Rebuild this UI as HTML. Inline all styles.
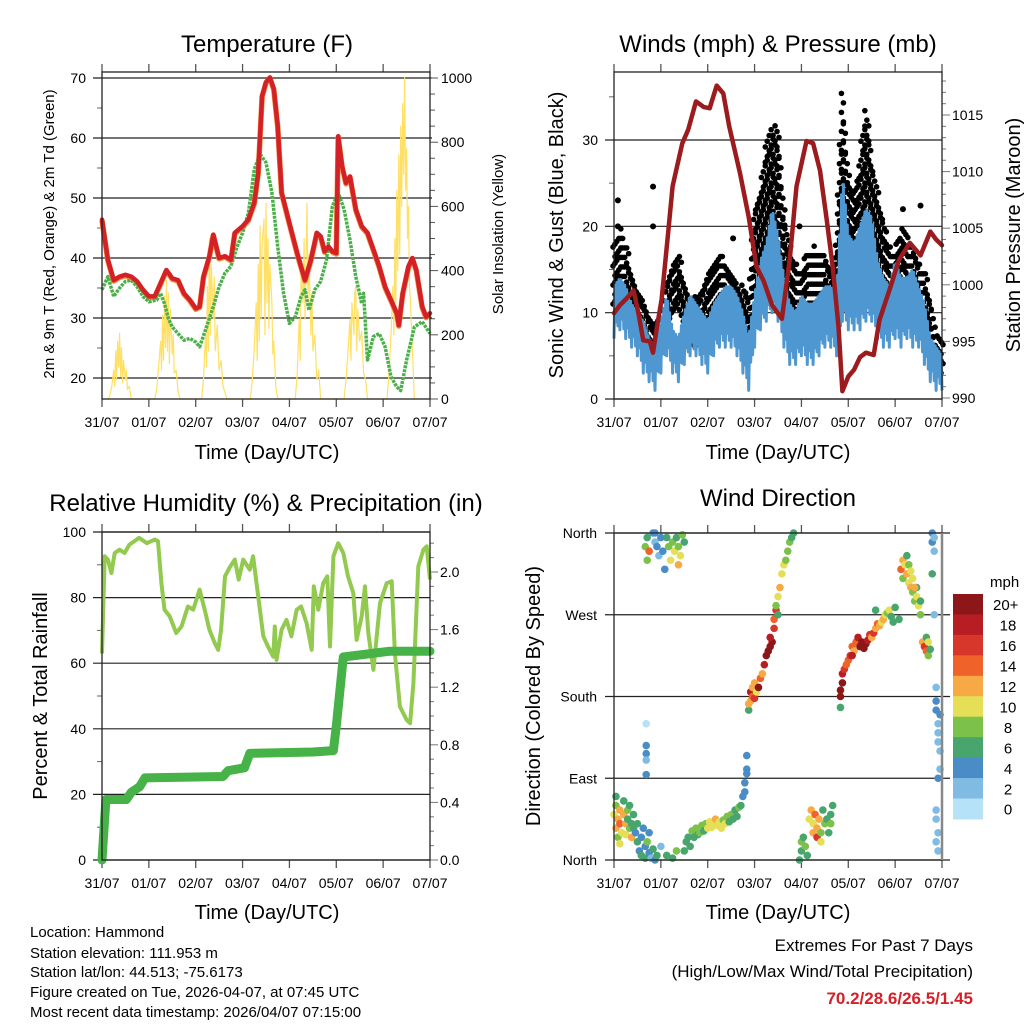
<!DOCTYPE html>
<html><head><meta charset="utf-8"><style>
html,body{margin:0;padding:0;background:#fff;}
svg{display:block;font-family:"Liberation Sans",Arial,sans-serif;}
</style></head><body>
<svg id="chart" width="1024" height="1024" viewBox="0 0 1024 1024" xmlns="http://www.w3.org/2000/svg">
<rect x="0" y="0" width="1024" height="1024" fill="#fff"/>
<g id="layer"></g>
<text x="267" y="52" font-size="24" text-anchor="middle">Temperature (F)</text>
<text x="778" y="52" font-size="24" text-anchor="middle">Winds (mph) &amp; Pressure (mb)</text>
<text x="266" y="511" font-size="24" text-anchor="middle">Relative Humidity (%) &amp; Precipitation (in)</text>
<text x="778" y="506" font-size="24" text-anchor="middle">Wind Direction</text>
<text transform="translate(54,234) rotate(-90)" font-size="15" text-anchor="middle">2m &amp; 9m T (Red, Orange) &amp; 2m Td (Green)</text>
<text transform="translate(503,234) rotate(-90)" font-size="15" text-anchor="middle">Solar Insolation (Yellow)</text>
<text transform="translate(563,235) rotate(-90)" font-size="20" text-anchor="middle">Sonic Wind &amp; Gust (Blue, Black)</text>
<text transform="translate(1020,235) rotate(-90)" font-size="20" text-anchor="middle">Station Pressure (Maroon)</text>
<text transform="translate(47,696) rotate(-90)" font-size="20" text-anchor="middle">Percent &amp; Total Rainfall</text>
<text transform="translate(540,696) rotate(-90)" font-size="20" text-anchor="middle">Direction (Colored By Speed)</text>
<text x="267" y="459" font-size="20" text-anchor="middle">Time (Day/UTC)</text>
<text x="778" y="459" font-size="20" text-anchor="middle">Time (Day/UTC)</text>
<text x="267" y="919" font-size="20" text-anchor="middle">Time (Day/UTC)</text>
<text x="778" y="919" font-size="20" text-anchor="middle">Time (Day/UTC)</text>
<g font-size="15">
<text x="30" y="937">Location: Hammond</text>
<text x="30" y="958">Station elevation: 111.953 m</text>
<text x="30" y="977">Station lat/lon: 44.513; -75.6173</text>
<text x="30" y="997">Figure created on Tue, 2026-04-07, at 07:45 UTC</text>
<text x="30" y="1017">Most recent data timestamp: 2026/04/07 07:15:00</text>
</g>
<text x="973" y="951" font-size="17" text-anchor="end">Extremes For Past 7 Days</text>
<text x="973" y="977" font-size="17" text-anchor="end">(High/Low/Max Wind/Total Precipitation)</text>
<text x="973" y="1004" font-size="17" font-weight="bold" fill="#d42027" text-anchor="end">70.2/28.6/26.5/1.45</text>
<text x="990" y="587" font-size="15">mph</text>
</svg>
<script>
// ---------- data ----------
const dayLabels = ["31/07","01/07","02/07","03/07","04/07","05/07","06/07","07/07"];
const tempTicks = [20,30,40,50,60,70];
const solarTicks = [0,200,400,600,800,1000];
const windTicks = [0,10,20,30];
const presTicks = [990,995,1000,1005,1010,1015];
const rhTicks = [0,20,40,60,80,100];
const precipTicks = ["0.0","0.4","0.8","1.2","1.6","2.0"];
const dirTicks = ["North","East","South","West","North"];
const dirTickVals = [0,90,180,270,360];
const speedBins = ["0","2","4","6","8","10","12","14","16","18","20+"];
const speedColors = ["#b5e2f6","#7fbbe3","#4a8dc6","#47a56d","#7cc24a","#e5df57","#f6a944","#ef6229","#d7362b","#b81d23","#8d1619"];

const t2mT = [0,3,6,9,12,15,18,21,24,27,30,33,36,39,42,45,48,50,52,55,57,60,63,66,68,72,75,78,80,82,84,86,88,90,92,96,100,104,107,110,112,114,116,118,120,121,123,125,127,130,133,136,139,142,145,148,151,152,154,157,159,161,164,166,168];
const t2mV = [46.4,39.7,36.3,36.9,37.2,36.9,36.1,34.7,33.6,33.6,35.8,38,36.6,36.3,34.1,33,31.6,31.9,36.9,40.3,43.9,40,40.3,39.7,44.2,45.3,46.4,49.2,54.2,67,69.3,70.1,68.2,62,50.9,45.8,40.8,36.3,39.7,44.2,43.6,41.1,41.9,41.1,40.8,60.3,55.3,52.5,53.6,48.1,45.3,44.2,41.4,38.6,35.2,33,30.8,28.8,34.1,38.6,40,38,31.9,30.2,30.8];
const tdT = [0,3,6,9,12,15,18,21,24,28,30,32,34,36,39,42,45,48,50,53,57,60,63,66,69,72,75,78,81,84,87,90,93,96,99,102,104,106,109,112,115,118,121,124,127,130,133,134,136,139,142,145,148,151,153,156,160,164,168];
const tdV = [34.7,36.9,33.6,35,36.1,36.3,35.2,33.6,32.7,33,34.1,32.4,29.9,28.5,27.4,26.3,26.6,26,25.2,28,31.9,35.2,37.5,38.6,41.7,44.2,47.5,54.8,57.3,55.9,50.9,41.9,34.1,29.1,30.2,33.6,34.7,31.3,34.7,36.1,39.7,48.6,50.9,48.1,43,36.9,32.4,34.1,23,26.9,27.4,25.2,20.2,18.5,17.9,23,28.5,29.4,27.4];
const solarT = [3,4,5,6,6.5,7,7.5,8,8.5,9,9.5,10,10.5,11,12,12.5,13,14,15,
 27,28,29,30,30.5,31,31.5,32,32.5,33,33.5,34,34.5,35,36,36.5,37,38,39,40,
 51,52,53,53.5,54,54.5,55,55.5,56,57,57.5,58,59,60,61,62,63,64,
 76,77,78,79,79.5,80,80.5,81,81.5,82,83,83.5,84,84.5,85,85.5,86,87,87.5,88,89,90,
 99,100,101,101.5,102,103,103.5,104,105,105.5,106,107,107.5,108,109,110,111,112,
 124,125,126,127,127.5,128,129,129.5,130,130.5,131,132,133,134,135,136,
 146,147,148,149,149.5,150,150.5,151,151.5,152,152.5,153,153.5,154,154.5,155,155.5,156,156.5,157,157.5,158,159,160];
const solarV = [0,10,40,90,40,150,60,180,100,205,70,160,50,120,60,90,30,40,0,
 0,30,100,180,90,260,120,320,160,370,150,330,110,280,140,200,80,90,20,0,
 0,60,200,100,350,150,500,200,420,250,380,150,230,90,120,40,20,0,
 0,60,160,300,120,420,180,540,250,480,560,200,610,300,500,220,420,300,140,180,40,0,
 0,80,250,120,400,300,500,250,610,300,450,200,330,150,200,60,90,0,
 0,60,150,250,120,300,200,330,350,150,280,180,210,80,60,0,
 0,80,200,350,200,500,300,650,400,760,450,850,600,920,700,1000,650,780,500,600,350,300,150,0];

const windLo = [7,8,7,6,5,3,2,1,3,5,3,2,4,5,5,4,3,5,6,6,6,5,3,1,6,8,9,10,9,6,4,4,5,4,4,5,6,6,5,9,8,8,8,9,9,7,6,6,7,6,7,6,6,4,2,1,1];
const windHi = [13,14,13,11,10,9,7,6,9,12,8,7,10,12,11,10,9,11,12,13,13,12,10,7,12,16,18,22,19,14,11,10,12,11,11,12,13,13,12,26,19,18,20,22,21,16,14,13,16,14,14,15,13,11,7,6,5];
const gustLo = [11,12,12,10,8,7,5,4,5,8,10,11,9,7,6,7,9,10,11,11,10,9,7,5,12,14,16,18,16,12,10,9,9,10,10,10,10,8,9,20,16,15,16,18,16,14,12,11,11,12,11,11,9,9,7,4,3];
const gustHi = [18,20,18,15,13,12,10,9,10,14,16,17,14,12,12,13,15,16,17,16,15,14,13,12,22,24,30,32,31,22,18,16,15,17,18,17,17,15,18,36,26,24,28,34,28,24,21,18,17,20,19,18,16,15,12,8,7];
const gustOutT = [2,2,20,20,61,95,148,157];
const gustOutV = [23,20,24.6,20,18.6,20,22,22.4];
const presT = [0,3,6.5,10,12.5,15,18.4,20,22,24.4,28,30,35,38,42,46,49,52.6,56,59,64.5,69,73,76.5,81,86,90,93.5,98.6,102,105.5,109,112,115,117,120,123,126,129,133,136,141,146,151.5,157,162,165,168];
const presV = [997.5,998.2,998.8,999.5,997.5,995.1,995,994,996.3,998.7,1005.1,1008.7,1012.5,1013.7,1016.2,1015.7,1015.6,1017.6,1016.9,1014,1009.9,1006,1001.6,1000.4,998.2,997,1002.2,1008.7,1012.7,1012.5,1010.1,1005.7,1001.6,996.3,990.6,991.9,992.5,993.6,994,993.8,996.9,999.5,1002.2,1003.7,1002.6,1004.7,1004,1003.5];

const rhT = [0,1.4,3,4.8,6.5,9,11.6,14,19,23,27,28.7,30.4,32,34.7,38,40.7,44,46.7,50,52.6,55,57.8,59.5,61,63,65.5,68,70,72.3,75.7,77.4,80,82.6,85,87.7,88.5,89.4,92,94.5,97,99.7,102,104.8,107.4,108.5,110.8,113.3,115.4,116.8,118.5,121,123.6,126,128.7,130.4,133,134.7,136.4,139,142.4,145.8,148.4,150,152.6,156,157.8,159.5,162,164.6,166.3,168];
const rhV = [63,92.6,91.6,87.5,93.6,94.6,93.6,96.1,98.2,96.6,97.7,97.2,84.4,76.3,74.3,69.2,71.2,77.3,76.3,82.4,76.3,70.2,66.1,64.1,70.2,86.5,89.3,91.6,85.5,91.6,88.5,92.6,80.4,68.2,65.1,62,71.2,61,70.2,73.2,68.2,76.3,77.3,72.2,64.1,83.4,76.3,84.4,86.5,65.1,92.6,96.6,93.6,86.5,81.4,67.1,74.3,83.4,69.2,58,78.3,84.4,85,63,46.8,42.7,41.7,53.9,89.5,94.6,95.6,85.5];
const prT = [0,2,12.5,15,19.3,22,62,64.6,73,75.7,108,118.5,120,123.6,147.5,168];
const prV = [0,0.42,0.42,0.47,0.51,0.57,0.58,0.62,0.64,0.74,0.75,0.76,0.93,1.41,1.45,1.45];

const dirT = [0,1,1,2,2,3,3,4,5,5,6,6,7,7,8,8,9,9,10,10,3,1,
 11,12,12,13,14,14,15,16,16,17,18,18,19,20,21,22,24,27,30,32,
 16,17,17,18,20,21,22,23,24,25,26,27,28,29,30,31,32,33,34,35,36,33,21,
 16.5,16.5,16.5,16.5,16.5,
 36,37,38,39,40,41,42,43,44,45,46,47,48,49,50,51,52,53,54,55,56,57,58,59,60,61,62,63,64,65,66,67,67,68,68,68,
 69,69,70,70,71,71,72,72,73,74,75,76,77,78,79,80,81,80,82,82,83,83,84,84,85,86,87,88,89,90,91,92,
 95,96,96,97,98,99,100,101,102,102,103,104,104,105,106,106,107,108,109,110,111,111,112,
 116,116,116,117,117,118,119,120,121,122,123,124,125,126,127,128,129,130,131,132,133,134,135,136,137,138,139,140,141,142,143,144,134,146,122,
 147,148,148,149,150,150,151,152,153,153,154,155,155,156,157,157,151,154,152,
 158,159,160,160,161,161,162,
 163,163,164,164,163,165,165,165,166,166,166,167,167,167,166,165,165,166,165,166,164];
const dirV = [50,35,60,45,25,55,40,30,50,65,40,28,55,45,35,60,40,25,50,35,18,70,
 30,20,40,10,25,5,35,15,2,20,8,30,2,12,0,5,15,5,2,10,
 345,355,330,340,360,350,345,335,355,340,320,355,345,330,350,340,355,345,335,358,350,325,360,
 150,126,117,110,94,
 10,20,25,15,32,25,35,28,30,38,32,40,35,42,36,40,45,38,42,35,44,40,48,42,50,45,55,48,58,60,70,75,85,95,100,115,
 165,172,175,185,180,190,178,195,185,190,200,205,215,225,230,235,240,245,255,265,275,280,270,290,300,315,325,330,340,350,355,360,
 0,10,20,25,15,5,45,55,40,30,50,35,25,45,20,30,55,40,45,30,50,40,60,
 168,180,187,195,205,210,215,220,225,235,230,240,245,235,240,233,238,242,248,245,250,255,260,258,262,265,270,272,275,268,262,278,275,265,225,
 320,330,310,325,315,335,305,300,295,310,285,290,300,280,270,285,325,300,318,
 240,235,230,245,225,240,232,
 360,350,340,355,315,190,175,165,150,140,130,160,120,100,90,55,45,30,20,10,270];
const dirS = [10,12,8,13,9,12,15,11,13,7,12,10,8,6,9,6,7,13,7,6,10,7,
 5,6,7,5,4,6,5,4,6,9,5,4,3,6,5,7,2,6,6,8,
 8,7,8,15,4,3,4,3,5,4,4,6,9,10,8,10,7,9,11,8,6,12,5,
 1,4,4,3,4,
 6,7,6,6,8,7,8,6,9,8,7,9,10,10,11,10,12,10,10,11,9,10,8,7,8,6,7,6,8,6,5,4,4,4,4,4,
 6,12,12,18,14,12,16,12,10,20,14,12,18,20,20,20,20,19,16,14,16,8,7,10,12,10,10,8,8,8,7,7,
 7,6,8,7,8,6,11,12,10,13,14,12,16,12,11,8,7,8,7,6,6,8,6,
 6,20,20,20,18,16,14,14,16,14,12,14,18,20,20,20,20,18,16,12,16,12,14,12,10,12,10,8,10,6,6,7,6,6,18,
 14,12,8,10,12,6,10,12,8,10,8,10,6,10,8,6,8,12,11,
 12,16,14,6,8,10,6,
 4,4,2,2,6,2,4,4,3,2,2,4,2,3,4,3,3,2,2,2,3];

// ---------- helpers ----------
const NS = "http://www.w3.org/2000/svg";
const layer = document.getElementById("layer");
function mk(tag, attrs, parent) {
  const el = document.createElementNS(NS, tag);
  for (const k in attrs) el.setAttribute(k, attrs[k]);
  (parent || layer).appendChild(el);
  return el;
}
function linScale(d0, d1, r0, r1) { return v => r0 + (v - d0) * (r1 - r0) / (d1 - d0); }

const panels = [
  {key:"temperature", x0:102, x1:430, y0:72, y1:399},
  {key:"winds", x0:614, x1:942, y0:72, y1:399},
  {key:"humidity", x0:102, x1:430, y0:532, y1:860},
  {key:"direction", x0:614, x1:942, y0:533, y1:860}
];

function frame(p) {
  const g = mk("g", {});
  
  
  const xs = linScale(0, 168, p.x0, p.x1);
  for (let d = 0; d < dayLabels.length; d++) {
    const x = xs(d * 24);
    const tb = mk("line", {x1:x, x2:x, y1:p.y1, y2:p.y1 + 8, stroke:"#555", "stroke-width":1.3}, g);
    
    
    const tt = mk("line", {x1:x, x2:x, y1:p.y0, y2:p.y0 - 8, stroke:"#555", "stroke-width":1.3}, g);
    
    
    const lb = mk("text", {x:x, y:p.y1 + 28, "font-size":14, "text-anchor":"middle"}, g);
    lb.textContent = dayLabels[d];
    
    
  }
  return {g, xs};
}
function hLine(g, y, x0, x1, w, col, name) {
  const l = mk("line", {x1:x0, x2:x1, y1:y, y2:y, stroke:col, "stroke-width":w}, g);
  
  
  return l;
}
function label(g, x, y, txt, anchor, name) {
  const t = mk("text", {x:x, y:y, "font-size":14, "text-anchor":anchor}, g);
  t.textContent = txt;
  
  
  return t;
}
function box(g, p) {
  const r = mk("rect", {x:p.x0, y:p.y0, width:p.x1 - p.x0, height:p.y1 - p.y0, fill:"none", stroke:"#222", "stroke-width":1.3}, g);
  
  
}
function pathFrom(xsArr, ysArr) {
  let d = "";
  for (let i = 0; i < xsArr.length; i++) d += (i ? "L" : "M") + xsArr[i].toFixed(1) + "," + ysArr[i].toFixed(1);
  return d;
}

// ---------- Panel 1: temperature ----------
(function () {
  const p = panels[0];
  const {g, xs} = frame(p);
  const yT = linScale(20, 70, 378, 78);
  const yS = linScale(0, 1000, p.y1, 78);
  for (let v = 20; v <= 70; v += 5) {
    const y = yT(v);
    const major = tempTicks.indexOf(v) >= 0;
    if (major) hLine(g, y, p.x0 - 9, p.x1 + 2, 1.2, "#222", "temperature-gridline");
    else hLine(g, y, p.x0 - 5, p.x0, 1, "#666", "temperature-minor-tick");
  }
  tempTicks.forEach(v => label(g, p.x0 - 16, yT(v) + 5, String(v), "end", "temperature-tick-label"));
  for (let v = 0; v <= 1000; v += 50) {
    const major = v % 200 === 0;
    hLine(g, yS(v), p.x1, p.x1 + (major ? 8 : 5), 1, "#555", "solar-tick");
  }
  solarTicks.forEach(v => label(g, p.x1 + 11, yS(v) + 5, String(v), "start", "solar-tick-label"));
  const sp = mk("path", {d:pathFrom(solarT.map(xs), solarV.map(yS)), fill:"none", stroke:"#ffe064", "stroke-width":1.2, "stroke-linejoin":"round"}, g);
  
  
  const op = mk("path", {d:pathFrom(t2mT.map(xs), t2mV.map(v => yT(v) + 0.8)), fill:"none", stroke:"#f58a3a", "stroke-width":5.5, "stroke-linejoin":"round"}, g);
  
  
  const tdp = mk("path", {d:pathFrom(tdT.map(xs), tdV.map(yT)), fill:"none", stroke:"#4cb04a", "stroke-width":3.5, "stroke-dasharray":"3 1", "stroke-linejoin":"round"}, g);
  
  
  const rp = mk("path", {d:pathFrom(t2mT.map(xs), t2mV.map(yT)), fill:"none", stroke:"#d42027", "stroke-width":4.5, "stroke-linejoin":"round", "stroke-linecap":"round"}, g);
  
  
  box(g, p);
})();

// ---------- Panel 2: winds & pressure ----------
(function () {
  const p = panels[1];
  const {g, xs} = frame(p);
  const yW = linScale(0, 30, p.y1, 140);
  const yP = linScale(990, 1015, 398, 115);
  for (let v = 0; v <= 35; v += 5) {
    if (v % 10 === 0) hLine(g, yW(v), p.x0 - 9, p.x1, 1.2, "#222", "wind-gridline");
    else hLine(g, yW(v), p.x0 - 5, p.x0, 1, "#666", "wind-minor-tick");
  }
  windTicks.forEach(v => label(g, p.x0 - 16, yW(v) + 5, String(v), "end", "wind-tick-label"));
  for (let v = 990; v <= 1018; v += 1) {
    const major = v % 5 === 0;
    hLine(g, yP(v), p.x1, p.x1 + (major ? 8 : 4), 1, "#777", "pressure-tick");
  }
  presTicks.forEach(v => label(g, p.x1 + 10, yP(v) + 5, String(v), "start", "pressure-tick-label"));
  // gusts: interpolate between neighbouring 3h samples so the cloud is continuous
  const jit = [0, 0.33, 0.66];
  for (let i = 0; i < gustLo.length; i++) {
    const nLo = gustLo[Math.min(i + 1, gustLo.length - 1)], nHi = gustHi[Math.min(i + 1, gustHi.length - 1)];
    for (let s = 0; s < 3; s++) {
      if (i === gustLo.length - 1 && s > 0) break;
      const f = jit[s];
      const lo = gustLo[i] + (nLo - gustLo[i]) * f, hi = gustHi[i] + (nHi - gustHi[i]) * f;
      let k = 0;
      for (let v = lo; v <= hi; v += 1.1) {
        const c = mk("circle", {cx:xs(i * 3 + f * 3) + ((k % 2) ? 1 : -1), cy:yW(v), r:2.8, fill:"#000"}, g);
        
        
        k++;
      }
    }
  }
  for (let i = 0; i < gustOutT.length; i++) {
    const c = mk("circle", {cx:xs(gustOutT[i]), cy:yW(gustOutV[i]), r:3, fill:"#000"}, g);
    
    
  }
  // wind: dense jagged trace between low and high of each 3h window
  const wx = [], wy = [];
  for (let i = 0; i < windLo.length; i++) {
    const last = i === windLo.length - 1;
    const nLo = last ? windLo[i] : windLo[i + 1], nHi = last ? windHi[i] : windHi[i + 1];
    const steps = last ? 1 : 6;
    for (let s = 0; s < steps; s++) {
      const f = s / 6;
      const lo = windLo[i] + (nLo - windLo[i]) * f, hi = windHi[i] + (nHi - windHi[i]) * f;
      wx.push(xs(i * 3 + f * 3)); wy.push(yW(s % 2 ? hi : lo + (s % 3) * 0.8));
    }
  }
  const wp = mk("path", {d:pathFrom(wx, wy), fill:"none", stroke:"#4f97d0", "stroke-width":3, "stroke-linejoin":"round"}, g);
  
  
  const pp = mk("path", {d:pathFrom(presT.map(xs), presV.map(yP)), fill:"none", stroke:"#9b1b1e", "stroke-width":4.5, "stroke-linejoin":"round", "stroke-linecap":"round"}, g);
  
  
  box(g, p);
})();

// ---------- Panel 3: humidity & precipitation ----------
(function () {
  const p = panels[2];
  const {g, xs} = frame(p);
  const yR = linScale(0, 100, p.y1, p.y0);
  const yPr = linScale(0, 2, p.y1, 572);
  for (let v = 0; v <= 100; v += 10) {
    if (v % 20 === 0) hLine(g, yR(v), p.x0 - 9, p.x1, 1.2, "#222", "humidity-gridline");
    else hLine(g, yR(v), p.x0 - 5, p.x0, 1, "#666", "humidity-minor-tick");
  }
  rhTicks.forEach(v => label(g, p.x0 - 16, yR(v) + 5, String(v), "end", "humidity-tick-label"));
  for (let k = 0; k <= 22; k++) {
    const v = k * 0.1;
    hLine(g, yPr(v), p.x1, p.x1 + (k % 4 === 0 ? 8 : 4), 1, "#777", "precip-tick");
  }
  precipTicks.forEach(s => label(g, p.x1 + 10, yPr(parseFloat(s)) + 5, s, "start", "precip-tick-label"));
  const rp = mk("path", {d:pathFrom(rhT.map(xs), rhV.map(yR)), fill:"none", stroke:"#92c94f", "stroke-width":4, "stroke-linejoin":"round"}, g);
  
  
  const pp = mk("path", {d:pathFrom(prT.map(xs), prV.map(yPr)), fill:"none", stroke:"#47b247", "stroke-width":9, "stroke-linejoin":"round", "stroke-linecap":"round"}, g);
  
  
  box(g, p);
})();

// ---------- Panel 4: wind direction ----------
(function () {
  const p = panels[3];
  const {g, xs} = frame(p);
  const yD = linScale(0, 360, p.y1, p.y0);
  dirTickVals.forEach((v, i) => {
    hLine(g, yD(v), p.x0 - 9, p.x1 + 8, 1.2, "#222", "direction-gridline");
    label(g, p.x0 - 17, yD(v) + 5, dirTicks[i], "end", "direction-tick-label");
  });
  for (let i = 0; i < dirT.length; i++) {
    const bin = Math.min(10, Math.floor(dirS[i] / 2));
    const c = mk("circle", {cx:xs(dirT[i]), cy:yD(dirV[i]), r:3.8, fill:speedColors[bin]}, g);
    
    
  }
  box(g, p);
  const nl = mk("line", {x1:p.x1, x2:p.x1, y1:p.y0, y2:p.y1, stroke:"#888", "stroke-width":2.5}, g);
  
  
  const cb = mk("g", {});
  
  
  const top = 594, h = 20.45;
  for (let i = 0; i < speedBins.length; i++) {
    const idx = speedBins.length - 1 - i;
    const r = mk("rect", {x:953, y:top + i * h, width:30, height:h + 0.5, fill:speedColors[idx]}, cb);
    
    
    const t = mk("text", {x:idx === 10 ? 993 : 1008, y:top + i * h + h / 2 + 6, "font-size":15, "text-anchor":idx === 10 ? "start" : "middle"}, cb);
    t.textContent = speedBins[idx];
    
    
  }
})();
</script>
</body></html>
